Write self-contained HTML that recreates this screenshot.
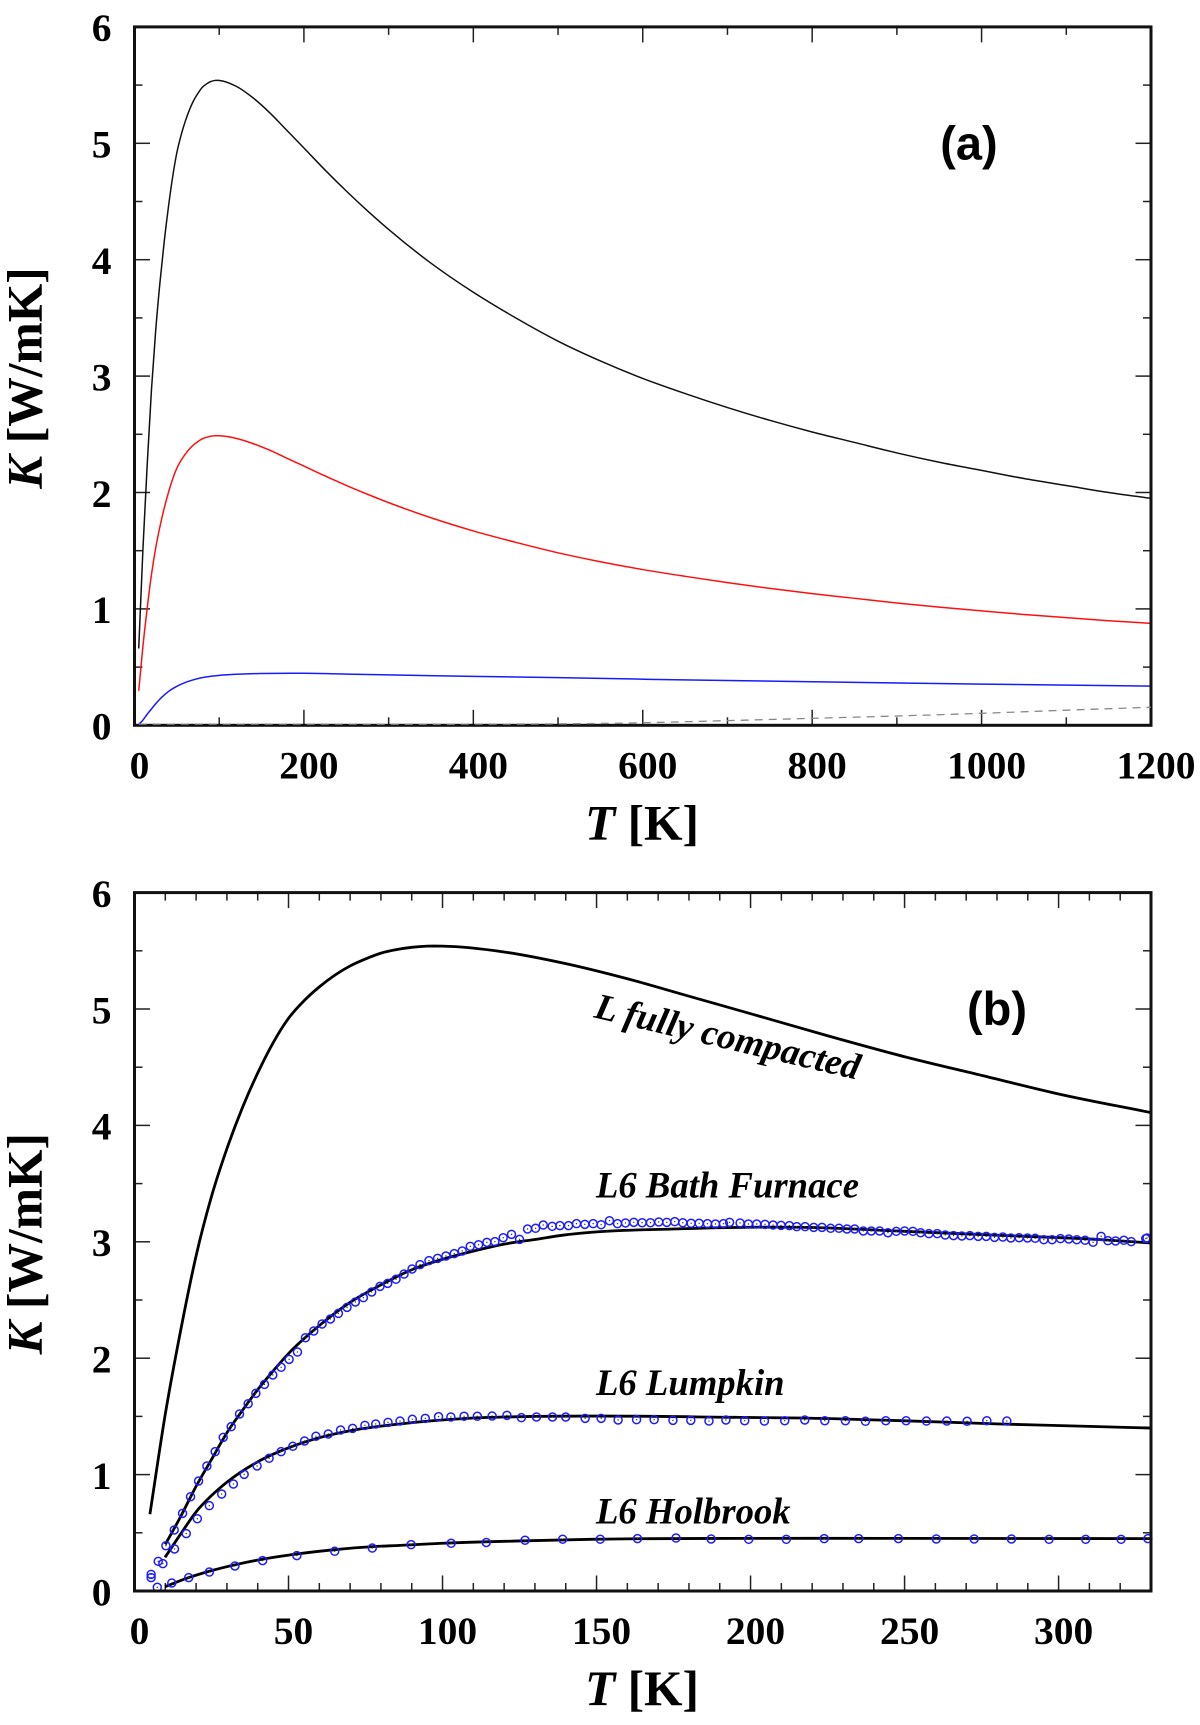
<!DOCTYPE html>
<html lang="en">
<head>
<meta charset="utf-8">
<title>Thermal conductivity versus temperature</title>
<style>
html,body{margin:0;padding:0;background:#fff;}
svg{display:block;}
text{font-family:"Liberation Serif",serif;font-weight:bold;fill:#000;}
.tick-label{font-size:39.5px;}
.axis-title{font-size:49.5px;}
.panel-letter{font-family:"Liberation Sans",sans-serif;font-size:47px;}
.series-label{font-size:36.7px;font-style:italic;}
</style>
</head>
<body>
<svg id="chart" xmlns="http://www.w3.org/2000/svg" width="1200" height="1725" viewBox="0 0 1200 1725">
  <rect x="0" y="0" width="1200" height="1725" fill="#fff"/>
  <g id="panelA"></g>
  <g id="panelB"></g>

  <text class="axis-title" transform="translate(41.7 378) rotate(-90)" text-anchor="middle"><tspan font-style="italic">K</tspan> [W/mK]</text>
  <text class="axis-title" x="642" y="839.3" text-anchor="middle"><tspan font-style="italic">T</tspan> [K]</text>
  <text class="panel-letter" x="969" y="159.3" text-anchor="middle">(a)</text>

  <text class="axis-title" transform="translate(41.7 1243.7) rotate(-90)" text-anchor="middle"><tspan font-style="italic">K</tspan> [W/mK]</text>
  <text class="axis-title" x="642" y="1705" text-anchor="middle"><tspan font-style="italic">T</tspan> [K]</text>
  <text class="panel-letter" x="997" y="1025" text-anchor="middle">(b)</text>

  <text class="series-label" transform="translate(593 1017.3) rotate(13.3)" style="font-size:36.9px">L fully compacted</text>
  <text class="series-label" x="596" y="1197.7">L6 Bath Furnace</text>
  <text class="series-label" x="596" y="1395">L6 Lumpkin</text>
  <text class="series-label" x="596" y="1523.3">L6 Holbrook</text>
</svg>
<script>
// Panel (a) tick labels
const aXTicks = [0, 200, 400, 600, 800, 1000, 1200];
const aXMinorTicks = [100, 300, 500, 700, 900, 1100];
const yTicks = [0, 1, 2, 3, 4, 5, 6];
const yMinorTicks = [0.5, 1.5, 2.5, 3.5, 4.5, 5.5];

// Panel (a) series
const aBlackT = [5, 10, 15, 20, 25, 30, 35, 40, 45, 50, 55, 60, 65, 70, 75, 80, 85, 90, 95, 100, 120, 140, 160, 180, 200, 225, 250, 275, 300, 350, 400, 450, 500, 550, 600, 650, 700, 750, 800, 850, 900, 950, 1000, 1050, 1100, 1150, 1200];
const aBlackK = [0.66, 1.52, 2.24, 2.88, 3.39, 3.8, 4.15, 4.45, 4.71, 4.92, 5.07, 5.19, 5.29, 5.37, 5.43, 5.48, 5.51, 5.53, 5.54, 5.54, 5.49, 5.39, 5.26, 5.11, 4.96, 4.77, 4.59, 4.42, 4.26, 3.97, 3.72, 3.5, 3.3, 3.13, 2.98, 2.85, 2.73, 2.62, 2.52, 2.43, 2.34, 2.26, 2.19, 2.12, 2.06, 2, 1.95];
const aRedT = [5, 10, 15, 20, 25, 30, 35, 40, 45, 50, 55, 60, 65, 70, 75, 80, 85, 90, 95, 100, 120, 140, 160, 180, 200, 225, 250, 275, 300, 350, 400, 450, 500, 550, 600, 650, 700, 750, 800, 850, 900, 950, 1000, 1050, 1100, 1150, 1200];
const aRedK = [0.296, 0.682, 1.006, 1.293, 1.522, 1.706, 1.863, 1.998, 2.115, 2.209, 2.276, 2.33, 2.375, 2.411, 2.438, 2.461, 2.474, 2.483, 2.487, 2.487, 2.465, 2.42, 2.362, 2.294, 2.227, 2.142, 2.061, 1.985, 1.913, 1.783, 1.67, 1.572, 1.482, 1.405, 1.338, 1.28, 1.226, 1.176, 1.131, 1.091, 1.051, 1.015, 0.983, 0.952, 0.925, 0.898, 0.876];
const aBlueT = [4, 10, 15, 20, 25, 30, 35, 40, 50, 60, 70, 80, 90, 100, 125, 150, 200, 250, 300, 400, 500, 608, 800, 1000, 1200];
const aBlueK = [0, 0.045, 0.095, 0.14, 0.185, 0.225, 0.26, 0.29, 0.335, 0.368, 0.392, 0.41, 0.421, 0.429, 0.44, 0.445, 0.447, 0.44, 0.433, 0.42, 0.41, 0.395, 0.374, 0.354, 0.337];
const aGrayT = [5, 200, 400, 500, 600, 700, 800, 900, 1000, 1100, 1200];
const aGrayK = [0.01, 0.01, 0.01, 0.012, 0.022, 0.04, 0.06, 0.08, 0.103, 0.13, 0.155];

// Panel (b) tick labels
const bXTicks = [0, 50, 100, 150, 200, 250, 300];
const bXMinorTicks = [10, 20, 30, 40, 60, 70, 80, 90, 110, 120, 130, 140, 160, 170, 180, 190, 210, 220, 230, 240, 260, 270, 280, 290, 310, 320];

// Panel (b) model curves
const bFullT = [5, 10, 15, 20, 25, 30, 35, 40, 45, 50, 55, 60, 65, 70, 75, 80, 85, 90, 95, 100, 120, 140, 160, 180, 200, 225, 250, 275, 300, 330];
const bFullK = [0.66, 1.52, 2.24, 2.88, 3.39, 3.8, 4.15, 4.45, 4.71, 4.92, 5.07, 5.19, 5.29, 5.37, 5.43, 5.48, 5.51, 5.53, 5.54, 5.54, 5.49, 5.39, 5.26, 5.11, 4.96, 4.77, 4.59, 4.43, 4.27, 4.11];
const bBathT = [10, 15, 20, 25, 30, 35, 40, 45, 50, 60, 70, 80, 90, 100, 110, 120, 130, 140, 150, 175, 200, 216, 250, 281, 313, 330];
const bBathK = [0.4, 0.64, 0.9, 1.13, 1.36, 1.55, 1.73, 1.89, 2.04, 2.28, 2.48, 2.63, 2.76, 2.85, 2.92, 2.98, 3.02, 3.06, 3.085, 3.11, 3.125, 3.125, 3.09, 3.055, 3.02, 2.99];
const bLumpT = [9.9, 15, 20, 25, 30, 40, 50, 60, 70, 86, 108, 130, 151, 195, 216, 249, 281, 313, 330];
const bLumpK = [0.289, 0.49, 0.68, 0.82, 0.935, 1.11, 1.23, 1.317, 1.377, 1.435, 1.483, 1.5, 1.503, 1.492, 1.486, 1.463, 1.435, 1.412, 1.4];
const bHolbT = [9.9, 17.6, 25, 32.6, 41.9, 52.7, 65, 77.2, 86.2, 100, 125, 150, 200, 250, 330];
const bHolbK = [0.037, 0.115, 0.175, 0.225, 0.275, 0.318, 0.355, 0.381, 0.392, 0.41, 0.43, 0.445, 0.452, 0.452, 0.45];

// Panel (b) measurements
const bathDataT = [5.4, 7.7, 10.2, 12.9, 15.6, 18.2, 20.8, 23.5, 26.2, 28.8, 31.4, 34.1, 36.9, 39.4, 42.2, 44.9, 47.6, 50.2, 52.9, 55.5, 58.2, 60.9, 63.6, 66.2, 69, 71.7, 74.3, 77, 79.7, 82.2, 84.9, 87.5, 90.1, 92.7, 95.6, 98.4, 101.1, 103.8, 106.4, 109, 111.7, 114.4, 117, 119.7, 122.4, 125, 127.6, 130.2, 132.7, 135.6, 138.1, 140.9, 143.5, 146.2, 148.9, 151.5, 154.2, 156.8, 159.4, 162.1, 164.8, 167.5, 170.2, 172.8, 175.4, 178, 180.7, 183.3, 186, 188.6, 191.2, 193.2, 196.6, 199.3, 202, 204.7, 207.3, 209.9, 212.6, 215, 217.7, 220.5, 223.2, 226, 228.7, 231.3, 233.8, 236.6, 239.2, 241.9, 244.6, 247.3, 250, 252.7, 255.2, 257.9, 260.6, 263.2, 265.9, 268.6, 271.2, 273.9, 276.5, 279.2, 281.9, 284.5, 287.2, 289.9, 292.4, 295.2, 297.9, 300.6, 303.3, 305.9, 308.6, 311.2, 313.8, 316, 318.5, 321.2, 323.6, 328.3, 328.7];
const bathDataK = [0.143, 0.255, 0.389, 0.524, 0.667, 0.81, 0.945, 1.074, 1.197, 1.32, 1.412, 1.521, 1.609, 1.698, 1.775, 1.856, 1.922, 1.99, 2.053, 2.176, 2.234, 2.294, 2.337, 2.385, 2.437, 2.483, 2.52, 2.569, 2.617, 2.643, 2.678, 2.723, 2.766, 2.804, 2.838, 2.858, 2.878, 2.898, 2.921, 2.961, 2.975, 2.995, 3.001, 3.035, 3.064, 3.021, 3.11, 3.116, 3.144, 3.133, 3.139, 3.139, 3.156, 3.15, 3.156, 3.147, 3.181, 3.156, 3.162, 3.167, 3.164, 3.164, 3.17, 3.167, 3.173, 3.164, 3.159, 3.159, 3.156, 3.153, 3.156, 3.167, 3.162, 3.153, 3.153, 3.15, 3.144, 3.141, 3.139, 3.13, 3.13, 3.124, 3.124, 3.116, 3.116, 3.11, 3.11, 3.093, 3.093, 3.093, 3.078, 3.09, 3.093, 3.09, 3.078, 3.07, 3.07, 3.058, 3.053, 3.05, 3.053, 3.047, 3.047, 3.038, 3.041, 3.033, 3.035, 3.033, 3.03, 3.018, 3.018, 3.027, 3.024, 3.018, 3.013, 2.996, 3.047, 3.01, 3.007, 3.013, 3.001, 3.027, 3.033];
const lumpDataT = [5.4, 9.2, 13, 16.8, 20.4, 24.3, 28.3, 32.1, 35.6, 39.8, 43.7, 47.6, 51.4, 55.2, 58.9, 62.9, 66.9, 70.8, 74.8, 78.3, 82.3, 86.2, 90.2, 94.4, 98.7, 102.7, 107, 111.3, 116.1, 120.9, 125.6, 130.5, 135.7, 140, 146.3, 151.5, 157, 163, 168.7, 174.8, 180.6, 186.5, 192, 198.1, 204.5, 211.1, 217.6, 224.1, 230.8, 237.3, 243.9, 250.5, 257.1, 263.7, 270.3, 276.7, 283.2];
const lumpDataK = [0.115, 0.235, 0.361, 0.493, 0.621, 0.733, 0.833, 0.919, 1.002, 1.074, 1.14, 1.197, 1.243, 1.289, 1.329, 1.349, 1.383, 1.397, 1.423, 1.435, 1.449, 1.46, 1.475, 1.483, 1.498, 1.495, 1.501, 1.501, 1.503, 1.509, 1.489, 1.495, 1.495, 1.495, 1.483, 1.483, 1.469, 1.472, 1.472, 1.466, 1.466, 1.46, 1.469, 1.463, 1.46, 1.463, 1.469, 1.463, 1.463, 1.458, 1.463, 1.463, 1.46, 1.46, 1.458, 1.463, 1.46];
const holbDataT = [7.4, 12.1, 17.6, 24.3, 32.6, 41.6, 52.7, 65, 77.2, 89.8, 102.8, 114.2, 126.8, 139, 151.2, 163.3, 175.8, 187.2, 199.4, 211.6, 223.9, 235.1, 248, 260.3, 272.6, 284.7, 296.9, 308.8, 320.3, 329];
const holbDataK = [0.032, 0.069, 0.115, 0.163, 0.215, 0.261, 0.304, 0.341, 0.369, 0.398, 0.41, 0.417, 0.436, 0.445, 0.445, 0.45, 0.455, 0.447, 0.444, 0.444, 0.45, 0.45, 0.45, 0.447, 0.447, 0.447, 0.444, 0.444, 0.444, 0.45];

const NS = 'http://www.w3.org/2000/svg';
const LEFT = 134.5, RIGHT = 1151, UNIT_K = 116.4;
const A_BOTTOM = 725.3, B_BOTTOM = 1591;

function scaleX(tMax) { return function (t) { return LEFT + t * (RIGHT - LEFT) / tMax; }; }
function scaleY(bottom) { return function (k) { return bottom - k * UNIT_K; }; }
const xA = scaleX(1200), yA = scaleY(A_BOTTOM);
const xB = scaleX(330), yB = scaleY(B_BOTTOM);

// Hermite spline with non-uniform tangents, so unevenly spaced readings join smoothly
function curvePath(ts, ks, fx, fy) {
  const p = ts.map(function (t, i) { return [fx(t), fy(ks[i])]; });
  const n = p.length;
  const slope = p.map(function (pt, i) {
    if (i === 0) return (p[1][1] - p[0][1]) / (p[1][0] - p[0][0]);
    if (i === n - 1) return (p[n - 1][1] - p[n - 2][1]) / (p[n - 1][0] - p[n - 2][0]);
    const h1 = p[i][0] - p[i - 1][0], h2 = p[i + 1][0] - p[i][0];
    const d1 = (p[i][1] - p[i - 1][1]) / h1, d2 = (p[i + 1][1] - p[i][1]) / h2;
    return (d1 * h2 + d2 * h1) / (h1 + h2);
  });
  let d = 'M' + p[0][0].toFixed(2) + ' ' + p[0][1].toFixed(2);
  for (let i = 0; i < n - 1; i++) {
    const h = p[i + 1][0] - p[i][0];
    const c1x = p[i][0] + h / 3, c1y = p[i][1] + slope[i] * h / 3;
    const c2x = p[i + 1][0] - h / 3, c2y = p[i + 1][1] - slope[i + 1] * h / 3;
    d += 'C' + c1x.toFixed(2) + ' ' + c1y.toFixed(2) + ' ' + c2x.toFixed(2) + ' ' + c2y.toFixed(2) + ' ' + p[i + 1][0].toFixed(2) + ' ' + p[i + 1][1].toFixed(2);
  }
  return d;
}

function addCurve(parent, name, ts, ks, fx, fy, color, width, dash) {
  const el = document.createElementNS(NS, 'path');
  
  
  el.setAttribute('d', curvePath(ts, ks, fx, fy));
  el.setAttribute('fill', 'none');
  el.setAttribute('stroke', color);
  el.setAttribute('stroke-width', width);
  if (dash) el.setAttribute('stroke-dasharray', dash);
  parent.appendChild(el);
}

function addMarkers(parent, name, ts, ks, fx, fy) {
  const group = document.createElementNS(NS, 'g');
  
  
  ts.forEach(function (t, i) {
    const ring = document.createElementNS(NS, 'circle');
    
    
    ring.setAttribute('cx', fx(t).toFixed(2));
    ring.setAttribute('cy', fy(ks[i]).toFixed(2));
    ring.setAttribute('r', '4');
    ring.setAttribute('fill', 'none');
    ring.setAttribute('stroke', '#1c1cff');
    ring.setAttribute('stroke-width', '1.5');
    group.appendChild(ring);
    const dot = document.createElementNS(NS, 'circle');
    
    
    dot.setAttribute('cx', fx(t).toFixed(2));
    dot.setAttribute('cy', fy(ks[i]).toFixed(2));
    dot.setAttribute('r', '0.7');
    dot.setAttribute('fill', '#335');
    group.appendChild(dot);
  });
  parent.appendChild(group);
}

function addLine(parent, name, x1, y1, x2, y2, width) {
  const el = document.createElementNS(NS, 'line');
  
  
  el.setAttribute('x1', x1);
  el.setAttribute('y1', y1);
  el.setAttribute('x2', x2);
  el.setAttribute('y2', y2);
  el.setAttribute('stroke', '#222');
  el.setAttribute('stroke-width', width);
  parent.appendChild(el);
}

function addLabel(parent, name, x, y, anchor, str) {
  const el = document.createElementNS(NS, 'text');
  
  
  el.setAttribute('class', 'tick-label');
  el.setAttribute('x', x);
  el.setAttribute('y', y);
  el.setAttribute('text-anchor', anchor);
  el.textContent = str;
  parent.appendChild(el);
}

function drawAxes(parent, fx, fy, bottom, xMajor, xMinor) {
  const top = bottom - 6 * UNIT_K;
  xMajor.forEach(function (t) {
    addLine(parent, 'x-tick-major-bottom', fx(t), bottom, fx(t), bottom - 15.5, 1.5);
    addLine(parent, 'x-tick-major-top', fx(t), top, fx(t), top + 15.5, 1.5);
    addLabel(parent, 'x-tick-label', fx(t) + 5, bottom + 53, 'middle', String(t));
  });
  xMinor.forEach(function (t) {
    addLine(parent, 'x-tick-minor-bottom', fx(t), bottom, fx(t), bottom - 8, 1.5);
    addLine(parent, 'x-tick-minor-top', fx(t), top, fx(t), top + 8, 1.5);
  });
  yTicks.forEach(function (k) {
    addLine(parent, 'y-tick-major-left', LEFT, fy(k), LEFT + 15.5, fy(k), 1.5);
    addLine(parent, 'y-tick-major-right', RIGHT, fy(k), RIGHT - 15.5, fy(k), 1.5);
    addLabel(parent, 'y-tick-label', 111.5, fy(k) + 14.3, 'end', String(k));
  });
  yMinorTicks.forEach(function (k) {
    addLine(parent, 'y-tick-minor-left', LEFT, fy(k), LEFT + 8, fy(k), 1.5);
    addLine(parent, 'y-tick-minor-right', RIGHT, fy(k), RIGHT - 8, fy(k), 1.5);
  });
}

function addFrame(parent, name, bottom) {
  const el = document.createElementNS(NS, 'rect');
  
  
  el.setAttribute('x', LEFT);
  el.setAttribute('y', bottom - 6 * UNIT_K);
  el.setAttribute('width', RIGHT - LEFT);
  el.setAttribute('height', 6 * UNIT_K);
  el.setAttribute('fill', 'none');
  el.setAttribute('stroke', '#111');
  el.setAttribute('stroke-width', '3');
  parent.appendChild(el);
}

const panelA = document.getElementById('panelA');
const panelB = document.getElementById('panelB');

drawAxes(panelA, xA, yA, A_BOTTOM, aXTicks, aXMinorTicks);
addCurve(panelA, 'curve-blue', aBlueT, aBlueK, xA, yA, '#1a1aff', 1.5);
addCurve(panelA, 'curve-red', aRedT, aRedK, xA, yA, '#ff1010', 1.5);
addCurve(panelA, 'curve-black', aBlackT, aBlackK, xA, yA, '#111', 1.5);
addFrame(panelA, 'panel-a-frame', A_BOTTOM);
addCurve(panelA, 'curve-gray-dashed', aGrayT, aGrayK, xA, yA, '#888', 1.3, '8 6');

drawAxes(panelB, xB, yB, B_BOTTOM, bXTicks, bXMinorTicks);
addCurve(panelB, 'curve-l-fully-compacted', bFullT, bFullK, xB, yB, '#000', 2.8);
addCurve(panelB, 'curve-l6-bath-furnace', bBathT, bBathK, xB, yB, '#000', 2.8);
addCurve(panelB, 'curve-l6-lumpkin', bLumpT, bLumpK, xB, yB, '#000', 2.8);
addCurve(panelB, 'curve-l6-holbrook', bHolbT, bHolbK, xB, yB, '#000', 2.8);
addMarkers(panelB, 'points-l6-bath-furnace', bathDataT, bathDataK, xB, yB);
addMarkers(panelB, 'points-l6-lumpkin', lumpDataT, lumpDataK, xB, yB);
addMarkers(panelB, 'points-l6-holbrook', holbDataT, holbDataK, xB, yB);
addFrame(panelB, 'panel-b-frame', B_BOTTOM);
</script>
</body>
</html>
